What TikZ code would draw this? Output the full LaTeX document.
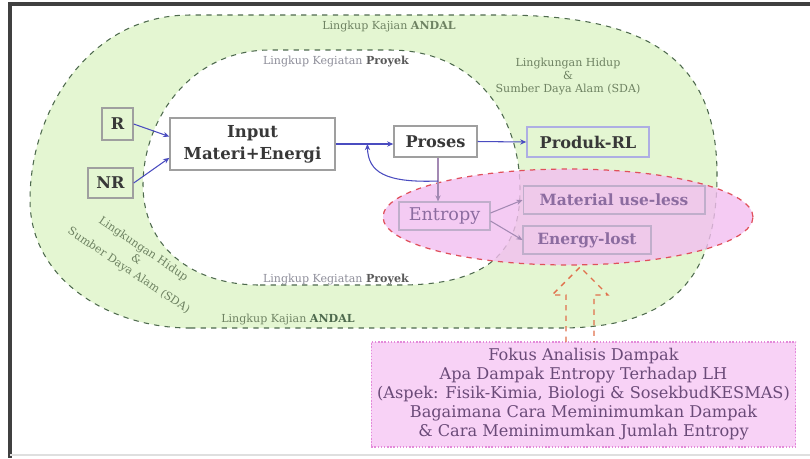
\documentclass[tikz,border=0pt]{standalone}
\usepackage{fontspec}
\setmainfont{DejaVu Serif}
\usepackage{xcolor}
\usetikzlibrary{arrows.meta,positioning,calc,shapes.geometric}
\definecolor{zonegreen}{HTML}{E4F6D2}
\definecolor{zoneline}{HTML}{4E6A4E}
\definecolor{lblgreen}{HTML}{6E8262}
\definecolor{lblgray}{HTML}{8E8E9A}
\definecolor{flowblue}{HTML}{4A4CC0}
\definecolor{entpink}{HTML}{F2BEF0}
\definecolor{entred}{HTML}{E0505C}
\definecolor{entpurple}{HTML}{8C6CA0}
\definecolor{focuspink}{HTML}{F8D2F6}
\definecolor{focusline}{HTML}{E48ADA}
\definecolor{focustext}{HTML}{6A4A78}
\definecolor{uparrow}{HTML}{E0704C}
\begin{document}
\begin{tikzpicture}[x=0.02cm, y=-0.02cm, >={Stealth[length=3.5pt,width=3pt]},
  zone/.style={draw=zoneline,dashed,line width=0.6pt},
  lbl/.style={font=\fontsize{6.3}{7.4}\selectfont,text=lblgreen,inner sep=1pt,align=center},
  box/.style={draw=gray!75,line width=0.8pt,inner sep=0pt,align=center,
    font=\fontsize{9.2}{11}\selectfont\bfseries,text=black!78},
  ent/.style={draw=entpurple!55,line width=0.6pt,inner sep=0pt,
    font=\fontsize{8.8}{10}\selectfont\bfseries,text=entpurple},
  flow/.style={->,flowblue,line width=0.6pt}]
 \useasboundingbox (0,0) rectangle (810,458);
 % frame
 \draw[black!75,line width=2.2pt] (8,4) -- (810,4);
 \draw[black!75,line width=2.2pt] (10,4) -- (10,458);
 \draw[gray!25,line width=0.6pt] (10,455) -- (810,455);
 % scope of ANDAL and scope of the project
 \draw[zone,fill=zonegreen] (190,328) -- (560,328)
   .. controls (670,328) and (717,280) .. (717,175)
   .. controls (717,60) and (650,15) .. (500,15) -- (190,15)
   .. controls (90,15) and (30,110) .. (30,200)
   .. controls (30,280) and (110,328) .. (190,328) -- cycle;
 \draw[zone,fill=white] (260,285) -- (400,285)
   .. controls (490,285) and (520,250) .. (520,190)
   .. controls (520,110) and (470,50) .. (390,50) -- (270,50)
   .. controls (190,50) and (143,120) .. (143,185)
   .. controls (143,245) and (190,285) .. (260,285) -- cycle;
 \node[lbl] (andaltop) at (389,27) {Lingkup Kajian \textbf{ANDAL}};
 \node[lbl,text=lblgray] (proyektop) at (336,62) {Lingkup Kegiatan \textcolor{black!65}{\textbf{Proyek}}};
 \node[lbl] (lhright) at (568,77) {Lingkungan Hidup\\\&\\Sumber Daya Alam (SDA)};
 \node[lbl,rotate=-34] (lhleft) at (136,260) {Lingkungan Hidup\\\&\\Sumber Daya Alam (SDA)};
 \node[lbl,text=lblgray] (proyekbot) at (336,280) {Lingkup Kegiatan \textcolor{black!65}{\textbf{Proyek}}};
 \node[lbl] (andalbot) at (288,320) {Lingkup Kajian \textcolor{zoneline}{\textbf{ANDAL}}};
 % entropy zone
 \node[ellipse,draw=entred,dashed,line width=0.7pt,fill=entpink,fill opacity=0.8,
   minimum width=7.4cm,minimum height=1.92cm] (entzone) at (568,217) {};
 % process chain
 \node[box,fill=zonegreen,minimum width=0.62cm,minimum height=0.64cm] (r) at (117.5,124) {R};
 \node[box,fill=zonegreen,minimum width=0.9cm,minimum height=0.6cm] (nr) at (110.5,183) {NR};
 \node[box,fill=white,minimum width=3.3cm,minimum height=1.04cm,
   font=\fontsize{9.4}{12.5}\selectfont\bfseries] (inp) at (252.5,144) {Input\\Materi+Energi};
 \node[box,fill=white,minimum width=1.66cm,minimum height=0.62cm] (proses) at (435.5,141.5) {Proses};
 \node[box,draw=flowblue!45,fill=zonegreen,minimum width=2.44cm,minimum height=0.6cm] (produk) at (588,142) {Produk-RL};
 \draw[flow] (r.east) -- ($(inp.north west)!0.36!(inp.south west)$);
 \draw[flow] (nr.east) -- ($(inp.north west)!0.76!(inp.south west)$);
 \draw[flow,line width=0.9pt] (inp.east) -- (inp.east -| proses.west);
 \draw[flow] (proses.east) -- (produk.west);
 % entropy and its products
 \node[ent,font=\fontsize{10}{12}\selectfont,minimum width=1.82cm,minimum height=0.56cm] (entropy) at (444.5,216) {Entropy};
 \node[ent,minimum width=3.64cm,minimum height=0.56cm] (material) at (614,200) {Material use-less};
 \node[ent,minimum width=2.56cm,minimum height=0.56cm] (energy) at (587,240) {Energy-lost};
 \draw[flow,draw=entpurple!80] (proses.south -| 438,0) -- (entropy.north -| 438,0);
 \coordinate (fbstart) at (438,181);
 \coordinate (fbend) at ($(inp.east)!0.55!(inp.east -| proses.west)$);
 \draw[flow] (fbstart) .. controls (385,183) and (368,172) .. (fbend);
 \draw[flow,draw=entpurple!80] ($(entropy.east)+(0,-3)$) -- (material.west);
 \draw[flow,draw=entpurple!80] ($(entropy.east)+(0,5)$) -- (energy.west);
 % focus of the impact analysis
 \node[draw=focusline,densely dotted,line width=0.8pt,fill=focuspink,
   minimum width=8.46cm,minimum height=2.1cm,align=center,text=focustext,
   font=\fontsize{9.2}{10.8}\selectfont] (focus) at (583.5,394.5)
   {Fokus Analisis Dampak\\Apa Dampak Entropy Terhadap LH\\(Aspek: Fisik-Kimia, Biologi \& SosekbudKESMAS)\\Bagaimana Cara Meminimumkan Dampak\\\& Cara Meminimumkan Jumlah Entropy};
 \draw[uparrow,dashed,line width=0.8pt] (566,342) -- (566,295) -- (552,295) -- (580,267)
   -- (608,295) -- (594,295) -- (594,342);
\end{tikzpicture}
\end{document}
